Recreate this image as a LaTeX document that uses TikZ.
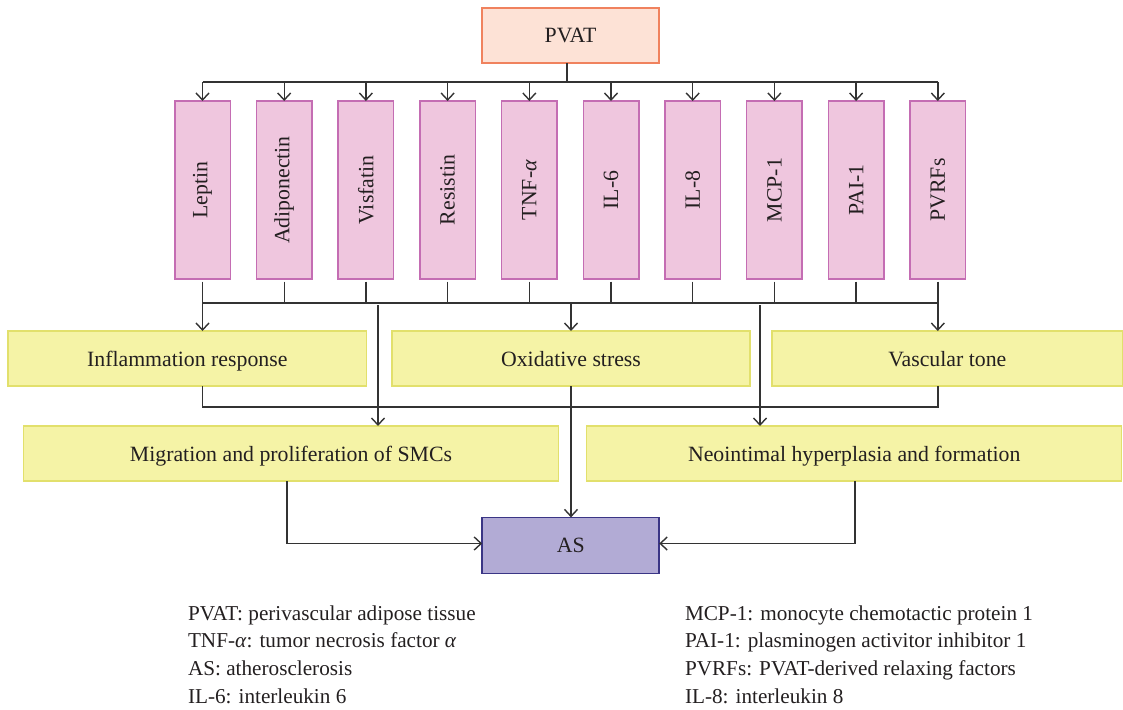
\documentclass[tikz,border=0pt]{standalone}
\usepackage{fontspec}
\setmainfont{Liberation Serif}
\usetikzlibrary{arrows.meta}
\definecolor{linec}{HTML}{333333}
\definecolor{txtc}{HTML}{231F20}
\definecolor{pvatfill}{HTML}{FDE2D6}
\definecolor{pvatdraw}{HTML}{F0825E}
\definecolor{pinkfill}{HTML}{EFC6DE}
\definecolor{pinkdraw}{HTML}{C46DB3}
\definecolor{yelfill}{HTML}{F5F3A6}
\definecolor{yeldraw}{HTML}{E2E06C}
\definecolor{asfill}{HTML}{B2ABD5}
\definecolor{asdraw}{HTML}{3A3585}
\begin{document}
\begin{tikzpicture}[x=1pt,y=-1pt,
  every node/.style={text=txtc, inner sep=0pt, outer sep=0pt},
  lbl/.style={font=\fontsize{21.8}{26}\selectfont},
  hlbl/.style={lbl, text height=17pt, text depth=2pt},
  conn/.style={draw=linec, line width=1.4pt},
  arr/.style={conn, -{Straight Barb[length=7pt,width=13pt,line width=1.4pt]}},
  pvatbox/.style={hlbl, draw=pvatdraw, fill=pvatfill, line width=1.5pt, minimum width=177pt, minimum height=55pt},
  factor/.style={lbl, draw=pinkdraw, fill=pinkfill, line width=1.5pt, minimum width=55.5pt, minimum height=178pt},
  effect/.style={hlbl, draw=yeldraw, fill=yelfill, line width=1.5pt, minimum height=55pt},
  asbox/.style={hlbl, draw=asdraw, fill=asfill, line width=1.5pt, minimum width=177pt, minimum height=56pt},
  legend/.style={font=\fontsize{21.2}{25}\selectfont, anchor=base west}]
\useasboundingbox (0,0) rectangle (1123,709);

\node[pvatbox] (pvat) at (570.5,35.5) {PVAT};

\foreach \t [count=\i from 0] in {Leptin,Adiponectin,Visfatin,Resistin,TNF-\textit{α},IL-6,IL-8,MCP-1,PAI-1,PVRFs}
  \node[factor] (p\i) at ({202.5+81.7*\i},190) {\rotatebox{90}{\t}};

\node[effect, minimum width=358.5pt] (inflam) at (187.3,358.5) {Inflammation response};
\node[effect, minimum width=358pt] (oxid) at (571,358.5) {Oxidative stress};
\node[effect, minimum width=350.5pt] (vasc) at (947.3,358.5) {Vascular tone};
\node[effect, minimum width=535pt] (migr) at (291,453.5) {Migration and proliferation of SMCs};
\node[effect, minimum width=535pt] (neo) at (854.2,453.5) {Neointimal hyperplasia and formation};
\node[asbox] (as) at (570.7,545.4) {AS};

\coordinate (topbar) at (0,82);
\coordinate (botbar) at (0,303);
\coordinate (joinbar) at (0,407);
\coordinate (stemx) at (567,0);
\coordinate (asy) at (0,543.5);
\coordinate (mtop) at (378,305);
\coordinate (ntop) at (760,305);
\coordinate (msx) at (287,0);
\coordinate (nsx) at (855,0);

% PVAT to factors
\draw[conn] (pvat.south -| stemx) -- (stemx |- topbar);
\draw[conn] (p0.north |- topbar) -- (p9.north |- topbar);
\foreach \i in {0,...,9}
  \draw[arr] (p\i.north |- topbar) -- (p\i.north);

% factors to bottom bar
\foreach \i in {0,...,9}
  \draw[conn] ([yshift=-2.5pt]p\i.south) -- (p\i.south |- botbar);
\draw[conn] (p0.south |- botbar) -- (p9.south |- botbar);

% bottom bar to effects
\draw[arr] (p0.south |- botbar) -- (inflam.north -| p0.south);
\draw[arr] (oxid.north |- botbar) -- (oxid.north);
\draw[arr] (p9.south |- botbar) -- (vasc.north -| p9.south);
\draw[arr] (mtop) -- (migr.north -| mtop);
\draw[arr] (ntop) -- (neo.north -| ntop);

% join of inflammation and vascular tone
\draw[conn] (inflam.south -| p0.south) -- (p0.south |- joinbar) -- (p9.south |- joinbar) -- (vasc.south -| p9.south);

% to AS
\draw[arr] (oxid.south) -- (oxid.south |- as.north);
\draw[arr] (msx |- migr.south) -- (msx |- asy) -- (as.west |- asy);
\draw[arr] (nsx |- neo.south) -- (nsx |- asy) -- (as.east |- asy);

% legend
\node[legend] (l1) at (188,620) {PVAT: perivascular adipose tissue};
\node[legend] (l2) at (188,647.7) {TNF-\textit{α}: tumor necrosis factor \textit{α}};
\node[legend] (l3) at (188,675.4) {AS: atherosclerosis};
\node[legend] (l4) at (188,703) {IL-6: interleukin 6};
\node[legend] (r1) at (685,620) {MCP-1: monocyte chemotactic protein 1};
\node[legend] (r2) at (685,647.7) {PAI-1: plasminogen activitor inhibitor 1};
\node[legend] (r3) at (685,675.4) {PVRFs: PVAT-derived relaxing factors};
\node[legend] (r4) at (685,703) {IL-8: interleukin 8};
\end{tikzpicture}
\end{document}
